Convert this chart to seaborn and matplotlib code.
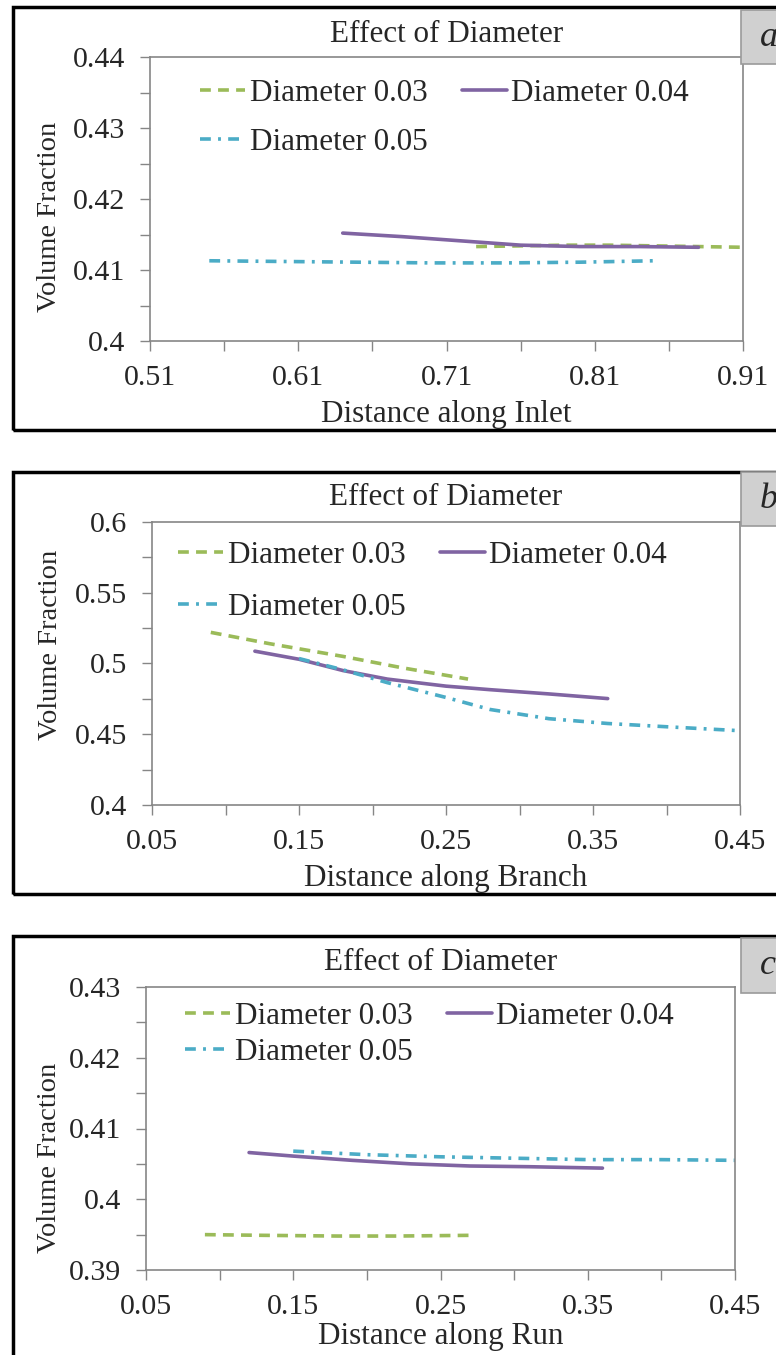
import matplotlib
matplotlib.use("Agg")
import matplotlib.pyplot as plt
import seaborn as sns
from matplotlib.patches import Rectangle
from matplotlib.ticker import FixedLocator, FixedFormatter

# ---------------- data ----------------
series_labels = ["Diameter 0.03", "Diameter 0.04", "Diameter 0.05"]

# Panel a: Inlet
a_x_d03 = [0.73, 0.76, 0.79, 0.82, 0.85, 0.88, 0.91]
a_y_d03 = [0.4133, 0.4134, 0.4135, 0.4135, 0.4134, 0.4133, 0.4132]
a_x_d04 = [0.64, 0.68, 0.72, 0.76, 0.80, 0.84, 0.88]
a_y_d04 = [0.4152, 0.4147, 0.4141, 0.4135, 0.4133, 0.4133, 0.4132]
a_x_d05 = [0.55, 0.60, 0.65, 0.70, 0.75, 0.80, 0.85]
a_y_d05 = [0.4113, 0.4112, 0.4111, 0.4110, 0.4110, 0.4111, 0.4113]

# Panel b: Branch
b_x_d03 = [0.09, 0.13, 0.18, 0.22, 0.265]
b_y_d03 = [0.522, 0.514, 0.505, 0.497, 0.489]
b_x_d04 = [0.12, 0.15, 0.18, 0.21, 0.25, 0.28, 0.32, 0.36]
b_y_d04 = [0.5087, 0.503, 0.495, 0.489, 0.484, 0.4815, 0.4785, 0.4752]
b_x_d05 = [0.15, 0.18, 0.21, 0.25, 0.28, 0.32, 0.36, 0.40, 0.45]
b_y_d05 = [0.5035, 0.4955, 0.4865, 0.476, 0.4675, 0.461, 0.4576, 0.4553, 0.4525]

# Panel c: Run
c_x_d03 = [0.09, 0.13, 0.18, 0.22, 0.27]
c_y_d03 = [0.3950, 0.3949, 0.3948, 0.3948, 0.3949]
c_x_d04 = [0.12, 0.15, 0.19, 0.23, 0.27, 0.31, 0.36]
c_y_d04 = [0.4066, 0.4061, 0.4055, 0.4050, 0.4047, 0.4046, 0.4044]
c_x_d05 = [0.15, 0.20, 0.25, 0.30, 0.35, 0.40, 0.45]
c_y_d05 = [0.4068, 0.4063, 0.4060, 0.4058, 0.4056, 0.4056, 0.4055]

# ticks
a_xticks = [0.51, 0.61, 0.71, 0.81, 0.91]
a_xticklabels = ["0.51", "0.61", "0.71", "0.81", "0.91"]
a_xminor = [0.56, 0.66, 0.76, 0.86]
a_yticks = [0.40, 0.41, 0.42, 0.43, 0.44]
a_yticklabels = ["0.4", "0.41", "0.42", "0.43", "0.44"]
a_yminor = [0.405, 0.415, 0.425, 0.435]

bc_xticks = [0.05, 0.15, 0.25, 0.35, 0.45]
bc_xticklabels = ["0.05", "0.15", "0.25", "0.35", "0.45"]
bc_xminor = [0.10, 0.20, 0.30, 0.40]
b_yticks = [0.40, 0.45, 0.50, 0.55, 0.60]
b_yticklabels = ["0.4", "0.45", "0.5", "0.55", "0.6"]
b_yminor = [0.425, 0.475, 0.525, 0.575]
c_yticks = [0.39, 0.40, 0.41, 0.42, 0.43]
c_yticklabels = ["0.39", "0.4", "0.41", "0.42", "0.43"]
c_yminor = [0.395, 0.405, 0.415, 0.425]

title_text = "Effect of Diameter"
ylabel_text = "Volume Fraction"
xlabels = ["Distance along Inlet", "Distance along Branch", "Distance along Run"]
panel_letters = ["a", "b", "c"]

# ---------------- style ----------------
sns.set_style("white")
plt.rcParams["font.family"] = ["Liberation Serif", "DejaVu Serif"]

W, H = 776, 1355
fig = plt.figure(figsize=(W / 100, H / 100), dpi=100)

GREEN = "#9BBB59"
PURPLE = "#8064A2"
CYAN = "#4BACC6"
SPINE = "#868686"

FS_TICK = 21.5
FS_TEXT = 22.4
FS_YLAB = 20.5
FS_LEG = 22.4


def px_axes(left, right, top, bottom):
    return [left / W, 1 - bottom / H, (right - left) / W, (bottom - top) / H]


panels = [
    dict(rect=px_axes(150, 743, 57, 341), xlim=(0.51, 0.91), ylim=(0.40, 0.44),
         xt=a_xticks, xtl=a_xticklabels, xm=a_xminor,
         yt=a_yticks, ytl=a_yticklabels, ym=a_yminor,
         data=[(a_x_d03, a_y_d03), (a_x_d04, a_y_d04), (a_x_d05, a_y_d05)],
         box=(7, 430), lbox=(10, 64),
         leg_anchor=(0.084, 0.922), leg_spacing=0.65,
         title_off=0.078, xlab_pos=(0.50, -0.258), ylab_pos=(-0.169, 0.437)),
    dict(rect=px_axes(152, 740, 522, 805), xlim=(0.05, 0.45), ylim=(0.40, 0.60),
         xt=bc_xticks, xtl=bc_xticklabels, xm=bc_xminor,
         yt=b_yticks, ytl=b_yticklabels, ym=b_yminor,
         data=[(b_x_d03, b_y_d03), (b_x_d04, b_y_d04), (b_x_d05, b_y_d05)],
         box=(472, 894), lbox=(472, 526),
         leg_anchor=(0.044, 0.932), leg_spacing=0.73,
         title_off=0.085, xlab_pos=(0.50, -0.26), ylab_pos=(-0.173, 0.565)),
    dict(rect=px_axes(146, 735, 987, 1270), xlim=(0.05, 0.45), ylim=(0.39, 0.43),
         xt=bc_xticks, xtl=bc_xticklabels, xm=bc_xminor,
         yt=c_yticks, ytl=c_yticklabels, ym=c_yminor,
         data=[(c_x_d03, c_y_d03), (c_x_d04, c_y_d04), (c_x_d05, c_y_d05)],
         box=(936, 1400), lbox=(938, 993),
         leg_anchor=(0.066, 0.947), leg_spacing=0.22,
         title_off=0.085, xlab_pos=(0.50, -0.236), ylab_pos=(-0.163, 0.396)),
]

colors = [GREEN, PURPLE, CYAN]
dash_patterns = [(3.0, 2.0), None, (3.0, 2.0, 0.8, 2.0)]

for i, p in enumerate(panels):
    # outer black frame
    top, bot = p["box"]
    fig.add_artist(Rectangle((13 / W, 1 - bot / H), 900 / W, (bot - top) / H,
                             transform=fig.transFigure, fill=False,
                             ec="black", lw=2.5, zorder=0))
    ax = fig.add_axes(p["rect"])
    lines = []
    for (xs, ys), col, dp in zip(p["data"], colors, dash_patterns):
        sns.lineplot(x=xs, y=ys, ax=ax, color=col, lw=2.6, sort=True,
                     estimator=None)
        ln = ax.lines[-1]
        if dp is not None:
            ln.set_dashes(dp)
        lines.append(ln)
    ax.set_xlim(*p["xlim"])
    ax.set_ylim(*p["ylim"])
    ax.xaxis.set_major_locator(FixedLocator(p["xt"]))
    ax.xaxis.set_major_formatter(FixedFormatter(p["xtl"]))
    ax.xaxis.set_minor_locator(FixedLocator(p["xm"]))
    ax.yaxis.set_major_locator(FixedLocator(p["yt"]))
    ax.yaxis.set_major_formatter(FixedFormatter(p["ytl"]))
    ax.yaxis.set_minor_locator(FixedLocator(p["ym"]))
    ax.tick_params(axis="both", which="both", direction="out", length=7,
                   width=1.0, color=SPINE, bottom=True, left=True)
    ax.tick_params(axis="y", which="major", labelsize=FS_TICK, pad=11)
    ax.tick_params(axis="x", which="major", labelsize=FS_TICK, pad=10)
    for s in ax.spines.values():
        s.set_visible(True)
        s.set_color(SPINE)
        s.set_linewidth(1.2)
    ax.set_xlabel("")
    ax.set_ylabel("")
    ax.text(0.5, 1 + p["title_off"], title_text, transform=ax.transAxes,
            ha="center", va="center", fontsize=FS_TEXT)
    ax.text(p["xlab_pos"][0], p["xlab_pos"][1], xlabels[i], transform=ax.transAxes,
            ha="center", va="center", fontsize=FS_TEXT)
    ax.text(p["ylab_pos"][0], p["ylab_pos"][1], ylabel_text, transform=ax.transAxes,
            ha="center", va="center", rotation=90, fontsize=FS_YLAB)
    ax.legend(handles=[lines[0], lines[2], lines[1]],
              labels=[series_labels[0], series_labels[2], series_labels[1]],
              ncol=2, loc="upper left", bbox_to_anchor=p["leg_anchor"],
              frameon=False, fontsize=FS_LEG, handlelength=1.45,
              handletextpad=0.15, columnspacing=1.1,
              labelspacing=p["leg_spacing"], borderaxespad=0, borderpad=0)
    # panel letter box
    lt, lb = p["lbox"]
    fig.add_artist(Rectangle((741 / W, 1 - lb / H), 60 / W, (lb - lt) / H,
                             transform=fig.transFigure, fc="#d0d0d0",
                             ec="#9a9a9a", lw=1.2, zorder=3))
    fig.text(760 / W, 1 - ((lt + lb) / 2) / H, panel_letters[i], ha="left",
             va="center", fontsize=26, style="italic", zorder=4)

fig.savefig("out.png", dpi=100)
